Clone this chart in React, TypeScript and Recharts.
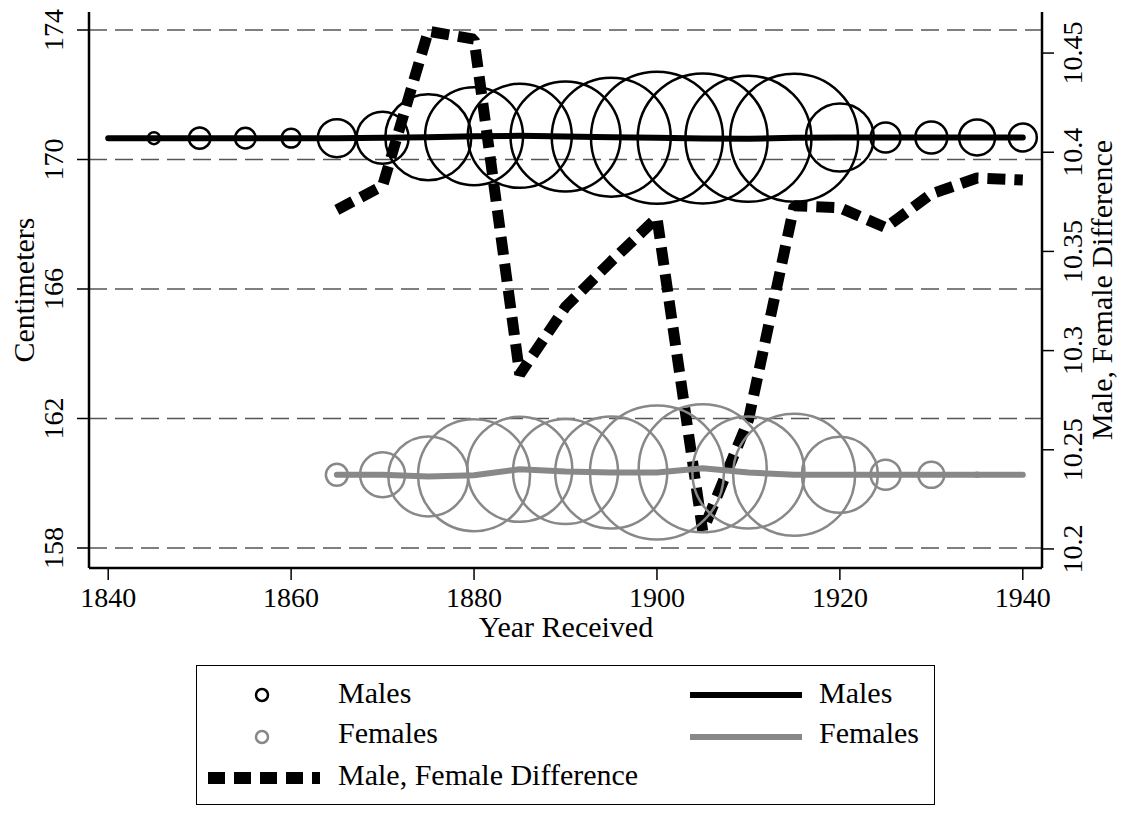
import {
  CartesianGrid,
  ComposedChart,
  Line,
  Scatter,
  XAxis,
  YAxis,
  ZAxis,
} from 'recharts';

const years = [
  1840, 1845, 1850, 1855, 1860, 1865, 1870, 1875, 1880, 1885, 1890,
  1895, 1900, 1905, 1910, 1915, 1920, 1925, 1930, 1935, 1940,
];
const maleHeight = [
  170.66, 170.66, 170.66, 170.66, 170.66, 170.66, 170.67, 170.69, 170.72, 170.73, 170.71,
  170.69, 170.67, 170.65, 170.64, 170.67, 170.68, 170.68, 170.68, 170.68, 170.68,
];
const femaleHeight = [
  null, null, null, null, null, 160.26, 160.26, 160.21, 160.25, 160.43, 160.36,
  160.33, 160.33, 160.46, 160.33, 160.26, 160.26, 160.26, 160.26, 160.26, 160.26,
];
const difference = [
  null, null, null, null, null, 10.371, 10.383, 10.461, 10.457, 10.288, 10.322,
  10.345, 10.367, 10.209, 10.265, 10.373, 10.372, 10.362, 10.379, 10.387, 10.386,
];
// number of records per 5-year bin (marker area)
const maleCount = [
  0, 36, 115, 106, 90, 361, 676, 1849, 2401, 2704, 3025,
  3540, 4356, 4225, 3969, 4096, 1156, 225, 256, 324, 196,
];
const femaleCount = [
  0, 0, 0, 0, 0, 121, 506, 1600, 3136, 2756, 2756,
  3136, 4489, 4096, 3136, 3721, 1444, 225, 169, 4, 0,
];
const yearTicks = [1840, 1860, 1880, 1900, 1920, 1940];
const cmTicks = [158, 162, 166, 170, 174];
const diffTicks = [10.2, 10.25, 10.3, 10.35, 10.4, 10.45];

const SERIF = 'Liberation Serif';
const grey = '#888888';

const lineData = years.map((year, i) => ({
  year,
  male: maleHeight[i],
  female: femaleHeight[i],
  diff: difference[i],
}));
const maleDots = years
  .map((year, i) => ({ year, height: maleHeight[i], n: maleCount[i] }))
  .filter((d) => d.n > 0);
const femaleDots = years
  .map((year, i) => ({ year, height: femaleHeight[i], n: femaleCount[i] }))
  .filter((d) => d.n > 0);

const xDomain = [1837.9, 1942.1];

function ringShape(color: string) {
  return (props: any) => {
    const r = Math.sqrt((props.size ?? 0) / Math.PI);
    return <circle cx={props.cx} cy={props.cy} r={r} fill="none" stroke={color} strokeWidth={2.5} />;
  };
}

function YearTick(props: any) {
  return (
    <text x={props.x} y={607} textAnchor="middle" fontSize={28} fontFamily={SERIF} fill="#000">
      {props.payload.value}
    </text>
  );
}

function CmTick(props: any) {
  const y = props.y;
  return (
    <text x={63} y={y} transform={`rotate(-90, 63, ${y})`} textAnchor="middle" fontSize={28} fontFamily={SERIF} fill="#000">
      {props.payload.value}
    </text>
  );
}

function DiffTick(props: any) {
  const y = props.y;
  return (
    <text x={1082} y={y} transform={`rotate(-90, 1082, ${y})`} textAnchor="middle" fontSize={28} fontFamily={SERIF} fill="#000">
      {String(props.payload.value)}
    </text>
  );
}

function ChartLegend() {
  return (
    <div
      style={{
        position: 'absolute',
        left: 196,
        top: 665,
        width: 739,
        height: 140,
        border: '1.5px solid #000',
        boxSizing: 'border-box',
      }}
    >
      <svg width={736} height={137} style={{ position: 'absolute', left: 0, top: 0 }}>
        <circle cx={65} cy={29} r={6} fill="none" stroke="#000" strokeWidth={2.5} />
        <circle cx={65} cy={71} r={6} fill="none" stroke={grey} strokeWidth={2.5} />
        <line x1={11} x2={123} y1={112} y2={112} stroke="#000" strokeWidth={12} strokeDasharray="17 9" />
        <line x1={493} x2={605} y1={29} y2={29} stroke="#000" strokeWidth={6} />
        <line x1={493} x2={605} y1={71} y2={71} stroke={grey} strokeWidth={6} />
        <g fontSize={30} fontFamily={SERIF} fill="#000">
          <text x={141} y={37}>Males</text>
          <text x={141} y={77}>Females</text>
          <text x={141} y={119}>Male, Female Difference</text>
          <text x={622} y={37}>Males</text>
          <text x={622} y={77}>Females</text>
        </g>
      </svg>
    </div>
  );
}

export default function App() {
  return (
    <div
      style={{
        position: 'absolute',
        left: 0,
        top: 0,
        width: 1126,
        height: 813,
        background: '#fff',
        fontFamily: SERIF,
      }}
    >
      <ComposedChart
        width={1126}
        height={813}
        data={lineData}
        margin={{ top: 12, right: 24, bottom: 205, left: 29 }}
        style={{ fontFamily: SERIF }}
      >
        <CartesianGrid
          yAxisId="cm"
          vertical={false}
          horizontalValues={cmTicks}
          stroke="#555"
          strokeWidth={1.3}
          strokeDasharray="18 8"
        />
        <XAxis
          dataKey="year"
          type="number"
          domain={xDomain}
          ticks={yearTicks}
          allowDataOverflow
          height={40}
          tickSize={12}
          axisLine={{ stroke: '#000', strokeWidth: 2.5 }}
          tickLine={{ stroke: '#000', strokeWidth: 1.5 }}
          tick={<YearTick />}
          label={{
            content: () => (
              <text x={566} y={637} textAnchor="middle" fontSize={30} fontFamily={SERIF} fill="#000">
                Year Received
              </text>
            ),
          }}
        />
        <XAxis
          xAxisId="top"
          orientation="top"
          type="number"
          domain={xDomain}
          allowDataOverflow
          height={0}
          tick={false}
          tickLine={false}
          axisLine={{ stroke: '#000', strokeWidth: 2.5 }}
        />
        <YAxis
          yAxisId="cm"
          type="number"
          domain={[157.382, 174.556]}
          ticks={cmTicks}
          allowDataOverflow
          width={60}
          tickSize={12}
          axisLine={{ stroke: '#000', strokeWidth: 2.5 }}
          tickLine={{ stroke: '#000', strokeWidth: 1.5 }}
          tick={<CmTick />}
          label={{
            content: () => (
              <text x={34} y={290} transform="rotate(-90, 34, 290)" textAnchor="middle" fontSize={30} fontFamily={SERIF} fill="#000">
                Centimeters
              </text>
            ),
          }}
        />
        <YAxis
          yAxisId="diff"
          orientation="right"
          type="number"
          domain={[10.1904, 10.4707]}
          ticks={diffTicks}
          allowDataOverflow
          width={60}
          tickSize={12}
          axisLine={{ stroke: '#000', strokeWidth: 2.5 }}
          tickLine={{ stroke: '#000', strokeWidth: 1.5 }}
          tick={<DiffTick />}
          label={{
            content: () => (
              <text x={1112} y={290} transform="rotate(-90, 1112, 290)" textAnchor="middle" fontSize={30} fontFamily={SERIF} fill="#000">
                Male, Female Difference
              </text>
            ),
          }}
        />
        <ZAxis dataKey="n" type="number" domain={[0, 4500]} range={[0, Math.PI * 4500]} />
        <Scatter
          data={maleDots}
          dataKey="height"
          yAxisId="cm"
          shape={ringShape('#000')}
          isAnimationActive={false}
        />
        <Scatter
          data={femaleDots}
          dataKey="height"
          yAxisId="cm"
          shape={ringShape(grey)}
          isAnimationActive={false}
        />
        <Line
          dataKey="diff"
          yAxisId="diff"
          type="linear"
          stroke="#000"
          strokeWidth={11}
          strokeDasharray="18 9"
          strokeLinejoin="bevel"
          dot={false}
          activeDot={false}
          isAnimationActive={false}
        />
        <Line
          dataKey="male"
          yAxisId="cm"
          type="linear"
          stroke="#000"
          strokeWidth={6}
          strokeLinecap="round"
          dot={false}
          activeDot={false}
          isAnimationActive={false}
        />
        <Line
          dataKey="female"
          yAxisId="cm"
          type="linear"
          stroke={grey}
          strokeWidth={6}
          strokeLinecap="round"
          dot={false}
          activeDot={false}
          isAnimationActive={false}
        />
      </ComposedChart>
      <ChartLegend />
    </div>
  );
}
